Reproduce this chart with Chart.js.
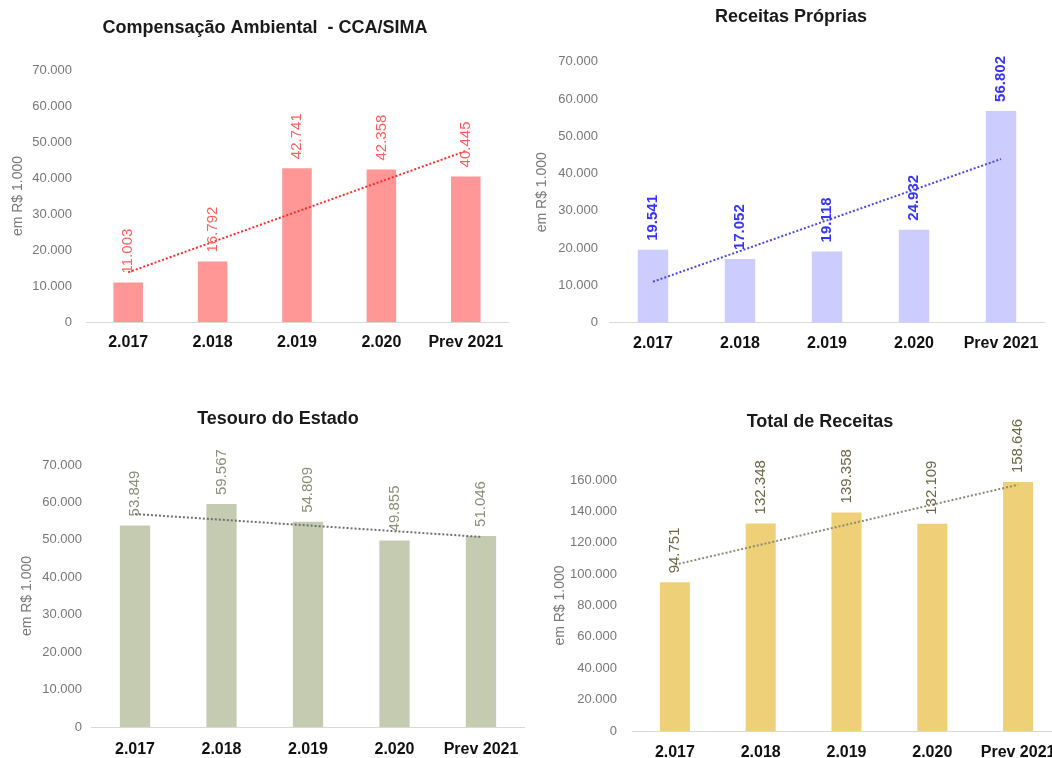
<!DOCTYPE html>
<html>
<head>
<meta charset="utf-8">
<script src="https://cdn.jsdelivr.net/npm/chart.js@4.4.0/dist/chart.umd.min.js"></script>
<style>
  html, body { margin: 0; padding: 0; background: #fff; overflow: hidden; width: 1052px; height: 758px; }
  canvas { position: absolute; }
</style>
</head>
<body>
<canvas id="g1"></canvas>
<canvas id="g2"></canvas>
<canvas id="g3"></canvas>
<canvas id="g4"></canvas>
<script>
// dados
const anos = ['2.017', '2.018', '2.019', '2.020', 'Prev 2021'];
const compensacao = [11003, 16792, 42741, 42358, 40445];
const receitasProprias = [19541, 17052, 19118, 24932, 56802];
const tesouro = [53849, 59567, 54809, 49855, 51046];
const totalReceitas = [94751, 132348, 139358, 132109, 158646];

// linha de tendencia: valor no inicio (2.017) e no fim (Prev 2021)
const tendCompensacao = [13800, 47500];
const tendProprias = [11000, 43900];
const tendTesouro = [56900, 50800];
const tendTotal = [106000, 157000];

const fonte = "'Liberation Sans', Arial, sans-serif";

function fmt(v) {
    return String(v).replace(/\B(?=(\d{3})+(?!\d))/g, '.');
}

const rotuloBarras = {
    id: 'rotuloBarras',
    afterDatasetsDraw(chart, args, opts) {
        const ctx = chart.ctx;
        chart.data.datasets.forEach((ds, i) => {
            if (ds.type === 'line') return;
            const meta = chart.getDatasetMeta(i);
            meta.data.forEach((bar, j) => {
                ctx.save();
                ctx.translate(bar.x, bar.y - 9);
                ctx.rotate(-Math.PI / 2);
                ctx.font = opts.font;
                ctx.fillStyle = opts.color;
                ctx.textAlign = 'left';
                ctx.textBaseline = 'middle';
                ctx.fillText(fmt(ds.data[j]), 0, 0);
                ctx.restore();
            });
        });
    }
};

// centraliza o titulo num x dado (o titulo do Excel nao fica no centro do canvas)
const posicaoTitulo = {
    id: 'posicaoTitulo',
    afterLayout(chart, args, opts) {
        const t = chart.titleBlock;
        if (!t) return;
        t.left = opts.x - 300;
        t.right = opts.x + 300;
    }
};

function criarGrafico(id, titulo, valores, tendencia, estilo, geo) {
    const canvas = document.getElementById(id);
    canvas.width = geo.w;
    canvas.height = geo.h;
    canvas.style.left = geo.x + 'px';
    canvas.style.top = geo.y + 'px';

    return new Chart(canvas.getContext('2d'), {
        type: 'bar',
        data: {
            labels: anos,
            datasets: [{
                type: 'line',
                data: [tendencia[0], null, null, null, tendencia[1]],
                spanGaps: true,
                borderColor: estilo.tendencia,
                borderWidth: 2,
                borderDash: [2, 2],
                pointRadius: 0,
                fill: false,
                order: 0
            }, {
                type: 'bar',
                data: valores,
                backgroundColor: estilo.barra,
                barPercentage: 0.35,
                categoryPercentage: 1,
                order: 1
            }]
        },
        options: {
            responsive: false,
            animation: false,
            devicePixelRatio: 1,
            layout: { padding: { left: 0, right: geo.w - geo.right, top: 0, bottom: 0 } },
            plugins: {
                legend: { display: false },
                tooltip: { enabled: false },
                title: {
                    display: true,
                    text: titulo,
                    color: '#1a1a1a',
                    font: { family: fonte, size: 18, weight: 'bold' },
                    padding: { top: geo.tituloY - 10.8, bottom: geo.top - geo.tituloY - 10.8 }
                },
                posicaoTitulo: { x: geo.tituloX },
                rotuloBarras: { font: estilo.fonteRotulo + ' 15px ' + fonte, color: estilo.rotulo }
            },
            scales: {
                x: {
                    grid: { display: false },
                    border: { display: true, color: '#d9d9d9', width: 1 },
                    ticks: { color: '#111', font: { family: fonte, size: 16, weight: 'bold' }, padding: geo.xPad, maxRotation: 0 },
                    afterFit: s => { s.height = geo.h - geo.bottom; }
                },
                y: {
                    min: 0,
                    max: geo.max,
                    grid: { display: false, drawTicks: false },
                    border: { display: false },
                    ticks: { stepSize: geo.passo, color: '#777', font: { family: fonte, size: 13 }, padding: geo.yPad, callback: v => fmt(v) },
                    title: {
                        display: true,
                        text: 'em R$ 1.000',
                        color: '#7a7a7a',
                        font: { family: fonte, size: 14 },
                        padding: { top: geo.yTituloX - 8.4, bottom: 0 }
                    },
                    afterFit: s => { s.width = geo.left; }
                }
            }
        },
        plugins: [rotuloBarras, posicaoTitulo]
    });
}

criarGrafico('g1', 'Compensação Ambiental  - CCA/SIMA', compensacao, tendCompensacao,
    { barra: '#ff9797', rotulo: '#ff5e5e', tendencia: '#ff2a2a', fonteRotulo: 'normal' },
    { x: 0, y: 0, w: 520, h: 370, left: 86, right: 508, top: 70, bottom: 322,
      tituloX: 265, tituloY: 28, yTituloX: 18, yPad: 14, xPad: 3.4, max: 70000, passo: 10000 });

criarGrafico('g2', 'Receitas Próprias', receitasProprias, tendProprias,
    { barra: '#ccccff', rotulo: '#3535f5', tendencia: '#4848e8', fonteRotulo: 'bold' },
    { x: 520, y: 0, w: 532, h: 370, left: 89.5, right: 524.5, top: 61.7, bottom: 322.7,
      tituloX: 271, tituloY: 17, yTituloX: 22, yPad: 11.5, xPad: 3.7, max: 70000, passo: 10000 });

criarGrafico('g3', 'Tesouro do Estado', tesouro, tendTesouro,
    { barra: '#c5cbb1', rotulo: '#8a8f78', tendencia: '#707070', fonteRotulo: 'normal' },
    { x: 0, y: 390, w: 540, h: 368, left: 91.75, right: 524.25, top: 75, bottom: 337,
      tituloX: 278, tituloY: 29, yTituloX: 27, yPad: 9.75, xPad: 5.4, max: 70000, passo: 10000 });

criarGrafico('g4', 'Total de Receitas', totalReceitas, tendTotal,
    { barra: '#eed078', rotulo: '#6b6848', tendencia: '#8a8a78', fonteRotulo: 'normal' },
    { x: 530, y: 390, w: 540, h: 368, left: 102, right: 531, top: 90, bottom: 341,
      tituloX: 290, tituloY: 32, yTituloX: 30, yPad: 15, xPad: 3.6, max: 160000, passo: 20000 });
</script>
</body>
</html>
